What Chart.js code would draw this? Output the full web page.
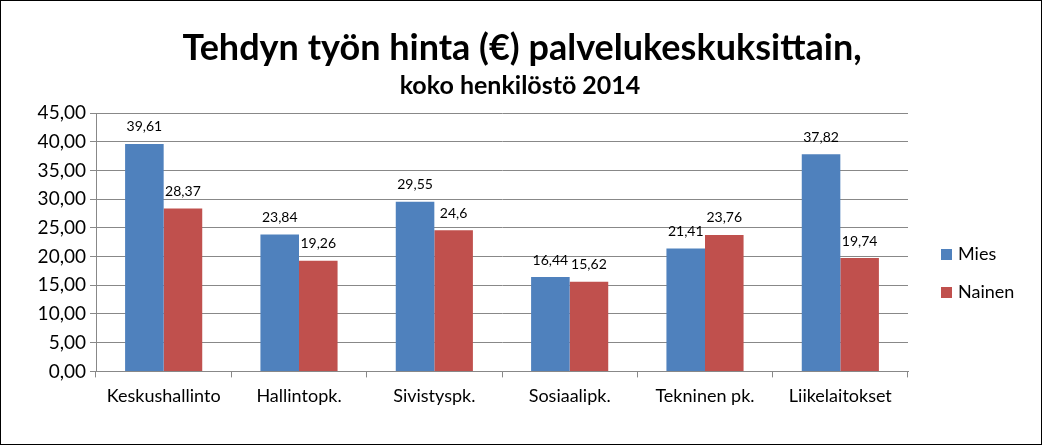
<!DOCTYPE html>
<html><head><meta charset="utf-8">
<script src="https://cdn.jsdelivr.net/npm/chart.js@4"></script>
<style>html,body{margin:0;padding:0;background:#fff}#wrap{width:1042px;height:445px}</style>
</head><body><div id="wrap"><canvas id="c"></canvas></div>
<script>
const categories = ['Keskushallinto', 'Hallintopk.', 'Sivistyspk.', 'Sosiaalipk.', 'Tekninen pk.', 'Liikelaitokset'];
const mies = [39.61, 23.84, 29.55, 16.44, 21.41, 37.82];
const nainen = [28.37, 19.26, 24.6, 15.62, 23.76, 19.74];
const seriesNames = ['Mies', 'Nainen'];
const colors = ['#4F81BD', '#C0504D'];
const FONT = 'Lato, "Open Sans", sans-serif';

const fmt = v => String(v).replace('.', ',');

// otsikot, arvot pylväiden päälle, kehys ja oma selite
const extras = {
  id: 'extras',
  beforeDraw(chart) {
    const c = chart.ctx;
    c.save();
    c.fillStyle = '#fff';
    c.fillRect(0, 0, chart.width, chart.height);
    c.strokeStyle = '#000';
    c.lineWidth = 1;
    c.strokeRect(0.5, 0.5, chart.width - 1, chart.height - 1);
    c.fillStyle = '#000';
    c.textAlign = 'center';
    c.textBaseline = 'alphabetic';
    c.font = 'bold 36px ' + FONT;
    c.fillText('Tehdyn työn hinta (€) palvelukeskuksittain,', 522, 60);
    c.font = 'bold 25px ' + FONT;
    c.fillText('koko henkilöstö 2014', 520, 94);
    c.restore();
  },
  afterDatasetsDraw(chart) {
    const c = chart.ctx;
    c.save();
    c.font = '14px ' + FONT;
    c.fillStyle = '#000';
    c.textAlign = 'center';
    c.textBaseline = 'bottom';
    chart.data.datasets.forEach((ds, i) => {
      chart.getDatasetMeta(i).data.forEach((bar, j) => {
        c.fillText(fmt(ds.data[j]), bar.x, bar.y - 10);
      });
    });
    c.font = '18px ' + FONT;
    c.textAlign = 'left';
    c.textBaseline = 'middle';
    chart.data.datasets.forEach((ds, i) => {
      const y = 254 + i * 38;
      c.fillStyle = ds.backgroundColor;
      c.fillRect(941, y - 5, 11, 11);
      c.fillStyle = '#000';
      c.fillText(ds.label, 958, y);
    });
    c.restore();
  }
};

new Chart(document.getElementById('c'), {
  type: 'bar',
  data: {
    labels: categories,
    datasets: [
      { label: seriesNames[0], data: mies, backgroundColor: colors[0] },
      { label: seriesNames[1], data: nainen, backgroundColor: colors[1] }
    ]
  },
  options: {
    responsive: true,
    maintainAspectRatio: false,
    animation: false,
    devicePixelRatio: 1,
    layout: { padding: { left: 20, right: 134, top: 113, bottom: 30 } },
    datasets: { bar: { categoryPercentage: 0.57, barPercentage: 1 } },
    plugins: {
      legend: { display: false },
      tooltip: { enabled: false }
    },
    scales: {
      x: {
        grid: { display: true, drawOnChartArea: false, color: '#888', tickLength: 6, offset: true },
        border: { color: '#888' },
        ticks: { color: '#000', font: { family: FONT, size: 18 }, padding: 8 }
      },
      y: {
        min: 0, max: 45,
        grid: { color: '#888', tickLength: 6 },
        border: { color: '#888' },
        afterFit: s => { s.width = 76; },
        ticks: {
          stepSize: 5, color: '#000', font: { family: FONT, size: 19 }, padding: 4,
          callback: v => v.toFixed(2).replace('.', ',')
        }
      }
    }
  },
  plugins: [extras]
});
</script></body></html>
